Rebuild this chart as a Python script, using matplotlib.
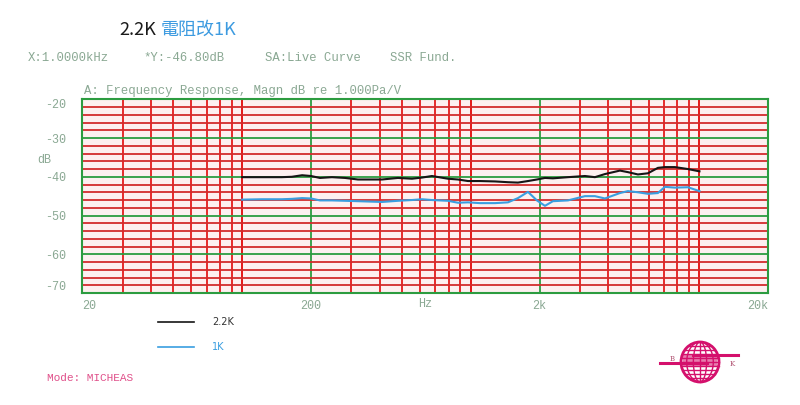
import numpy as np
import matplotlib
matplotlib.use('Agg')
import matplotlib.pyplot as plt
from matplotlib.lines import Line2D
from matplotlib.patches import Ellipse
from matplotlib.ticker import FixedLocator, NullFormatter

# datos
freq = [100, 122, 149, 165, 183, 200, 219, 247, 282, 321, 362, 409, 480, 553,
        612, 676, 794, 879, 972, 1096, 1276, 1454, 1608, 1778, 1946, 2110, 2286,
        2660, 3156, 3490, 3860, 4490, 4864, 5380, 5950, 6580, 7060, 7810, 8900, 10000]
db_22k = [-40.1, -40.1, -40.1, -40.0, -39.6, -39.8, -40.3, -40.1, -40.3, -40.7,
          -40.7, -40.7, -40.3, -40.5, -40.2, -39.8, -40.5, -40.7, -41.1, -41.1,
          -41.2, -41.4, -41.5, -41.1, -40.7, -40.3, -40.4, -40.1, -39.8, -40.1,
          -39.3, -38.4, -38.8, -39.4, -39.1, -37.7, -37.5, -37.5, -38.0, -38.6]
db_1k = [-45.9, -45.8, -45.8, -45.7, -45.5, -45.6, -46.1, -46.1, -46.2, -46.3,
         -46.4, -46.5, -46.2, -46.0, -45.8, -46.0, -46.2, -46.7, -46.6, -46.8,
         -46.8, -46.6, -45.5, -43.9, -46.1, -47.5, -46.3, -46.1, -45.0, -45.0,
         -45.6, -44.2, -43.7, -44.0, -44.4, -44.2, -42.6, -42.8, -42.7, -43.7]

x_ticks = [20, 200, 2000, 20000]
x_labels = ['20', '200', '2k', '20k']
y_ticks = [-70, -60, -50, -40, -30, -20]

VERDE = '#2c9c40'
ROJO_H = '#d22c2c'
ROJO_V = '#e41c1c'
TXT = '#8aa893'
MONO = 'Liberation Mono'

plt.rcParams['font.family'] = ['Noto Sans CJK SC', 'DejaVu Sans']
plt.rcParams['axes.unicode_minus'] = False

fig = plt.figure(figsize=(8, 4.05), dpi=100)
W, H = 800, 405

def fx(px):
    return px / W

def fy(py):
    return 1 - py / H

ax = fig.add_axes([fx(82.3), fy(293), fx(768.3 - 82.3), (293 - 99.3) / H])
ax.set_facecolor('#fdf0f0')
ax.set_xscale('log')
ax.set_xlim(20, 20000)
ax.set_ylim(-70, -20)

# rejilla: verde mayor, roja menor
menores = [n * 10 ** d for d in range(1, 5) for n in range(1, 11)
           if 20 < n * 10 ** d < 20000 and n * 10 ** d not in x_ticks]
ax.xaxis.set_major_locator(FixedLocator(x_ticks))
ax.xaxis.set_minor_locator(FixedLocator(menores))
ax.xaxis.set_minor_formatter(NullFormatter())
ax.set_xticklabels(x_labels)
ax.yaxis.set_major_locator(FixedLocator(y_ticks))
ax.yaxis.set_minor_locator(FixedLocator([v for v in range(-70, -19, 2) if v % 10]))

ax.grid(which='major', axis='both', color=VERDE, lw=1.3, zorder=1)
ax.grid(which='minor', axis='x', color=ROJO_V, lw=1.3, zorder=1)
ax.grid(which='minor', axis='y', color=ROJO_H, lw=1.3, zorder=1)
ax.set_axisbelow(True)
for s in ax.spines.values():
    s.set_color(VERDE)
    s.set_linewidth(1.5)

ax.tick_params(which='both', length=0)
ax.tick_params(axis='x', pad=5, labelsize=8.5, labelcolor=TXT)
ax.tick_params(axis='y', pad=12, labelsize=8.5, labelcolor=TXT)
for lab in ax.get_xticklabels() + ax.get_yticklabels():
    lab.set_family(MONO)
xl = ax.get_xticklabels()
xl[0].set_ha('left')
xl[-1].set_ha('right')
yl = ax.get_yticklabels()
yl[0].set_va('bottom')
yl[-1].set_va('top')

ax.plot(freq, db_22k, color='#151515', lw=1.5, zorder=3)
ax.plot(freq, db_1k, color='#3a9ee0', lw=1.5, zorder=3)

ax.text(0.5, -0.027, 'Hz', transform=ax.transAxes, ha='center', va='top',
        family=MONO, fontsize=8.5, color=TXT)
fig.text(fx(37), fy(160), 'dB', family=MONO, fontsize=8.5, color=TXT, va='center')

# titulo
fig.text(fx(119), fy(30), '2.2K', fontsize=13, color='#1a1a1a', va='center')
fig.text(fx(161), fy(30), '電阻改1K', fontsize=13, color='#3d9be0', va='center')

# cabecera del analizador
cab = [(28, 'X:1.0000kHz'), (143, '*Y:-46.80dB'), (265, 'SA:Live Curve'), (390, 'SSR Fund.')]
for px, t in cab:
    fig.text(fx(px), fy(58), t, family=MONO, fontsize=8.8, color=TXT, va='center')
fig.text(fx(84), fy(91), 'A: Frequency Response, Magn dB re 1.000Pa/V',
         family=MONO, fontsize=8.8, color=TXT, va='center')

# leyenda
fig.add_artist(Line2D([fx(158), fx(194)], [fy(322), fy(322)], color='#151515', lw=1.2))
fig.add_artist(Line2D([fx(158), fx(194)], [fy(347), fy(347)], color='#3a9ee0', lw=1.2))
fig.text(fx(212), fy(322), '2.2K', fontsize=7, color='#333333', va='center', family='DejaVu Sans')
fig.text(fx(212), fy(347), '1K', fontsize=7, color='#3a9ee0', va='center', family='DejaVu Sans')

fig.text(fx(47), fy(378), 'Mode: MICHEAS', family=MONO, fontsize=8, color='#e0508a', va='center')

# logo B&K
MAG = '#d4106c'
lg = fig.add_axes([fx(655), fy(385), fx(90), 45 / H])
lg.set_xlim(655, 745)
lg.set_ylim(385, 340)
lg.axis('off')
cx, cy, rx, ry = 700, 362, 19, 20
lg.add_patch(Ellipse((cx, cy), 2 * rx, 2 * ry, fill=False, ec=MAG, lw=2))
for k in (0.35, 0.7):
    lg.add_patch(Ellipse((cx, cy), 2 * rx * k, 2 * ry, fill=False, ec=MAG, lw=1))
lg.plot([cx, cx], [cy - ry, cy + ry], color=MAG, lw=1)
for yy in np.arange(cy - ry + 4, cy + ry, 4):
    half = rx * np.sqrt(max(0, 1 - ((yy - cy) / ry) ** 2))
    lg.plot([cx - half, cx + half], [yy, yy], color=MAG, lw=1)
lg.fill_between([cx - rx * 0.9, cx + rx * 0.9], 354, 366, color=MAG, alpha=0.55, lw=0)
lg.plot([660, 707], [363, 363], color=MAG, lw=2.2)
lg.plot([693, 738], [355, 355], color=MAG, lw=2.2)
lg.text(672, 359, 'B', fontsize=5, color='#b05070', ha='center', va='center', family='DejaVu Serif')
lg.text(732, 364, 'K', fontsize=5, color='#b05070', ha='center', va='center', family='DejaVu Serif')

fig.savefig('out.png', dpi=100)
